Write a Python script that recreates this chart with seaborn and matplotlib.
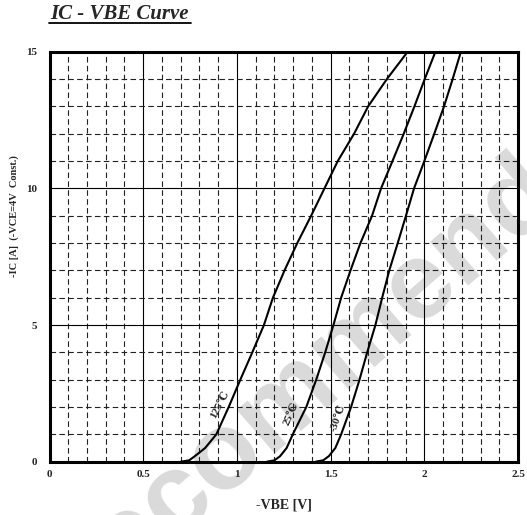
import pandas as pd
import matplotlib
matplotlib.use('Agg')
import matplotlib.pyplot as plt
from matplotlib.ticker import MultipleLocator, FuncFormatter
import seaborn as sns

# -IC [A] levels (same for all three curves)
ic = [0, 0.05, 0.2, 0.5, 1, 2, 3, 4, 5, 6, 7, 8, 9, 10, 11, 12, 13, 14, 15]

# -VBE [V] at each current level
vbe_125 = [0.70, 0.745, 0.775, 0.83, 0.89, 0.956, 1.018, 1.082, 1.144, 1.192,
           1.254, 1.322, 1.396, 1.467, 1.538, 1.625, 1.70, 1.80, 1.911]
vbe_25 = [1.16, 1.20, 1.23, 1.265, 1.298, 1.370, 1.423, 1.471, 1.515, 1.556,
          1.606, 1.659, 1.721, 1.769, 1.83, 1.89, 1.947, 2.002, 2.059]
vbe_m30 = [1.42, 1.46, 1.49, 1.525, 1.556, 1.609, 1.654, 1.695, 1.739, 1.775,
           1.813, 1.858, 1.902, 1.945, 2.0, 2.053, 2.105, 2.151, 2.195]

temps = ['125℃', '25℃', '-30℃']

df = pd.concat([
    pd.DataFrame({'VBE': vbe_125, 'IC': ic, 'T': temps[0]}),
    pd.DataFrame({'VBE': vbe_25, 'IC': ic, 'T': temps[1]}),
    pd.DataFrame({'VBE': vbe_m30, 'IC': ic, 'T': temps[2]}),
])

sns.set_theme(style='white')
plt.rcParams['font.family'] = ['Liberation Serif', 'DejaVu Serif', 'DejaVu Sans']
plt.rcParams['font.weight'] = 'bold'

fig = plt.figure(figsize=(5.27, 5.15), dpi=100)
ax = fig.add_axes([0.094, 0.1035, 0.889, 0.796])

# watermark, behind the axes
fig.text(0.503, 0.175, 'Not Recommended', fontsize=79, color='#dadada',
         rotation=41, ha='center', va='center', family='Liberation Sans',
         fontweight='bold', zorder=-1)
ax.patch.set_alpha(0)

sns.lineplot(data=df, x='VBE', y='IC', units='T', estimator=None, sort=False,
             color='black', lw=1.5, ax=ax, zorder=5)

ax.set_xlim(0, 2.5)
ax.set_ylim(0, 15)
ax.xaxis.set_major_locator(MultipleLocator(0.5))
ax.xaxis.set_minor_locator(MultipleLocator(0.1))
ax.yaxis.set_major_locator(MultipleLocator(5))
ax.yaxis.set_minor_locator(MultipleLocator(1))
ax.xaxis.set_major_formatter(FuncFormatter(lambda v, p: f'{v:g}'))
ax.yaxis.set_major_formatter(FuncFormatter(lambda v, p: f'{v:g}'))
ax.grid(which='major', color='black', lw=0.8, ls='-')
ax.grid(which='minor', color='#222222', lw=0.8, ls=(0, (5, 3)))
ax.tick_params(which='both', length=0, labelsize=8)
ax.tick_params(axis='x', pad=6)
ax.tick_params(axis='y', pad=9)
for lab in ax.get_xticklabels() + ax.get_yticklabels():
    lab.set_fontweight('bold')
for s in ax.spines.values():
    s.set_color('black')
    s.set_linewidth(2.2)

ax.set_xlabel('-VBE [V]', fontsize=10, fontweight='bold', labelpad=14)
ax.set_ylabel('')
ax.text(-0.076, 0.60, '-IC [A]  (-VCE=4V  Const.)', transform=ax.transAxes,
        fontsize=7.5, fontweight='bold', rotation=90, ha='center', va='center')

# curve labels
ax.text(0.91, 2.1, temps[0], fontsize=8, rotation=62, ha='center', va='center', zorder=6)
ax.text(1.29, 1.75, temps[1], fontsize=8, rotation=66, ha='center', va='center', zorder=6)
ax.text(1.54, 1.6, temps[2], fontsize=8, rotation=70, ha='center', va='center', zorder=6)

fig.text(0.095, 0.972, 'IC - VBE Curve', fontsize=15, fontweight='bold',
         fontstyle='italic', ha='left', va='center')
fig.add_artist(plt.Line2D([0.093, 0.362], [0.955, 0.955], color='black', lw=1.3))

fig.savefig('out.png', dpi=100)
